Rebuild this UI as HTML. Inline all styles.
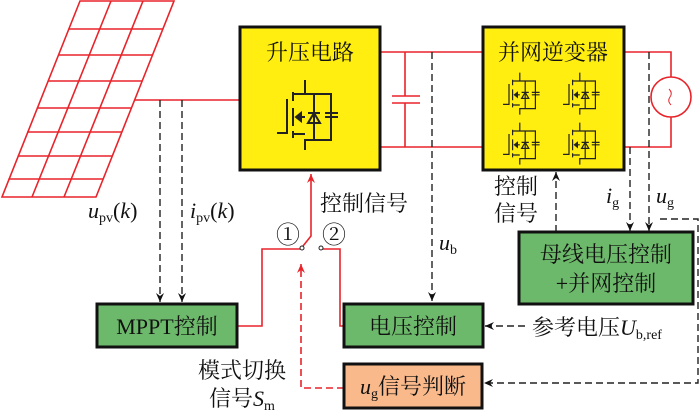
<!DOCTYPE html>
<html><head><meta charset="utf-8"><style>
body{margin:0;background:#fff}
svg{display:block}
text{font-family:"Liberation Serif","Noto Serif CJK SC","Noto Sans CJK SC",serif;fill:#111}
</style></head><body>
<svg width="700" height="420" viewBox="0 0 700 420" xmlns="http://www.w3.org/2000/svg">
<defs>
<marker id="ak" markerWidth="10" markerHeight="10" refX="9" refY="5" orient="auto" markerUnits="userSpaceOnUse"><path d="M0,1 L9,5 L0,9 L3,5 Z" fill="#111"/></marker>
<marker id="ar" markerWidth="10" markerHeight="10" refX="9" refY="5" orient="auto" markerUnits="userSpaceOnUse"><path d="M0,1 L9,5 L0,9 L3,5 Z" fill="#e8242a"/></marker>
<g id="sw" fill="none" stroke="#222" stroke-width="2">
<path d="M287,99 V133 H277"/>
<path d="M293,92 V101 M293,108 V126 M293,131 V138"/>
<path d="M305,80 V94 H331 V140 H305 V150 M293,94 H305 M293,134 H305"/>
<path d="M314,94 V140"/>
<path d="M308,123 H320 L314,113 Z M308,113 H320"/>
<path d="M325,113 H338 M325,117 H338"/>
<path d="M305,117 H296"/>
<path d="M296,117 L301,113 V121 Z" fill="#222"/>
</g>
</defs>

<g stroke="#e8242a" stroke-width="1.6" fill="none">
<path d="M80,1 H174 L96,197 H2 Z"/>
<path d="M111,1 L32,197 M143,1 L64,197"/>
<path d="M68.4,29 H162.8 M58,55 H152.4 M47.6,81 H142 M36.8,108 H131.2 M27.2,132 H121.6 M17.6,156 H112 M8.4,179 H102.8"/>
</g>
<g stroke="#e8242a" stroke-width="1.6" fill="none">
<path d="M135,100 H240"/>
<path d="M380,52 H483 M380,147 H483"/>
<path d="M405,52 V96 M405,103 V147 M392,96 H420 M392,103 H420"/>
<path d="M624,52 H671 V77 M671,117 V147 H624"/>
<circle cx="671" cy="97" r="20"/>
<path d="M669,89 Q673,93 670,97 Q667,101 671,105" stroke-width="1"/>
</g>

<rect x="240" y="27" width="140" height="143" fill="#ffee10" stroke="#111" stroke-width="3"/>
<text x="310" y="60" font-size="22" text-anchor="middle">升压电路</text>
<use href="#sw"/>

<rect x="483" y="27" width="141" height="143" fill="#ffee10" stroke="#111" stroke-width="3"/>
<text x="553" y="60" font-size="22" text-anchor="middle">并网逆变器</text>
<use href="#sw" transform="translate(503,72) scale(0.6) translate(-277,-79)"/>
<use href="#sw" transform="translate(563,72) scale(0.6) translate(-277,-79)"/>
<use href="#sw" transform="translate(503,122) scale(0.6) translate(-277,-79)"/>
<use href="#sw" transform="translate(563,122) scale(0.6) translate(-277,-79)"/>

<g stroke="#222" stroke-width="1.4" fill="none" stroke-dasharray="7,4">
<path d="M160,100 V302" marker-end="url(#ak)"/>
<path d="M182,100 V302" marker-end="url(#ak)"/>
<path d="M432,52 V301" marker-end="url(#ak)"/>
<path d="M630,147 V231" marker-end="url(#ak)"/>
<path d="M649,52 V231" marker-end="url(#ak)"/>
<path d="M556,232 V172" marker-end="url(#ak)"/>
<path d="M660,219 H698 V383 H484" marker-end="url(#ak)"/>
<path d="M525,326 H485" marker-end="url(#ak)"/>
</g>

<g stroke="#e8242a" stroke-width="1.6" fill="none">
<path d="M237,326 H262 V249 H300"/>
<path d="M322,249 H340 V326 H344"/>
<path d="M303,246 L311,236 V174" marker-end="url(#ar)"/>
<path d="M344,388 H301 V264" stroke-dasharray="7,4" marker-end="url(#ar)"/>
</g>
<circle cx="302" cy="248" r="2" fill="#fff" stroke="#222" stroke-width="1"/>
<circle cx="321" cy="248" r="2" fill="#fff" stroke="#222" stroke-width="1"/>

<rect x="97" y="304" width="140" height="43" fill="#6db96b" stroke="#111" stroke-width="3"/>
<text x="167" y="334" font-size="22" text-anchor="middle">MPPT控制</text>
<rect x="344" y="304" width="139" height="43" fill="#6db96b" stroke="#111" stroke-width="3"/>
<text x="413" y="334" font-size="22" text-anchor="middle">电压控制</text>
<rect x="519" y="232" width="174" height="72" fill="#6db96b" stroke="#111" stroke-width="3"/>
<text x="606" y="262" font-size="22" text-anchor="middle">母线电压控制</text>
<text x="606" y="291" font-size="22" text-anchor="middle">+并网控制</text>
<rect x="344" y="364" width="138" height="44" fill="#f9b98a" stroke="#111" stroke-width="3"/>
<text x="413" y="394" font-size="22" text-anchor="middle"><tspan font-style="italic">u</tspan><tspan font-size="14" dy="4">g</tspan><tspan dy="-4">信号判断</tspan></text>

<g font-size="22">
<text x="88" y="218"><tspan font-style="italic">u</tspan><tspan font-size="14" dy="4">pv</tspan><tspan dy="-4">(</tspan><tspan font-style="italic">k</tspan>)</text>
<text x="190" y="218"><tspan font-style="italic">i</tspan><tspan font-size="14" dy="4">pv</tspan><tspan dy="-4">(</tspan><tspan font-style="italic">k</tspan>)</text>
<text x="320" y="211">控制信号</text>
<text x="276" y="243" font-size="24">①</text>
<text x="322" y="243" font-size="24">②</text>
<text x="439" y="250"><tspan font-style="italic">u</tspan><tspan font-size="14" dy="4">b</tspan></text>
<text x="494" y="194">控制</text>
<text x="494" y="221">信号</text>
<text x="606" y="203"><tspan font-style="italic">i</tspan><tspan font-size="14" dy="4">g</tspan></text>
<text x="656" y="203"><tspan font-style="italic">u</tspan><tspan font-size="14" dy="4">g</tspan></text>
<text x="532" y="335">参考电压<tspan font-style="italic">U</tspan><tspan font-size="14" dy="4">b,ref</tspan></text>
<text x="198" y="378">模式切换</text>
<text x="209" y="406">信号<tspan font-style="italic">S</tspan><tspan font-size="14" dy="4">m</tspan></text>
</g>
</svg>
</body></html>
